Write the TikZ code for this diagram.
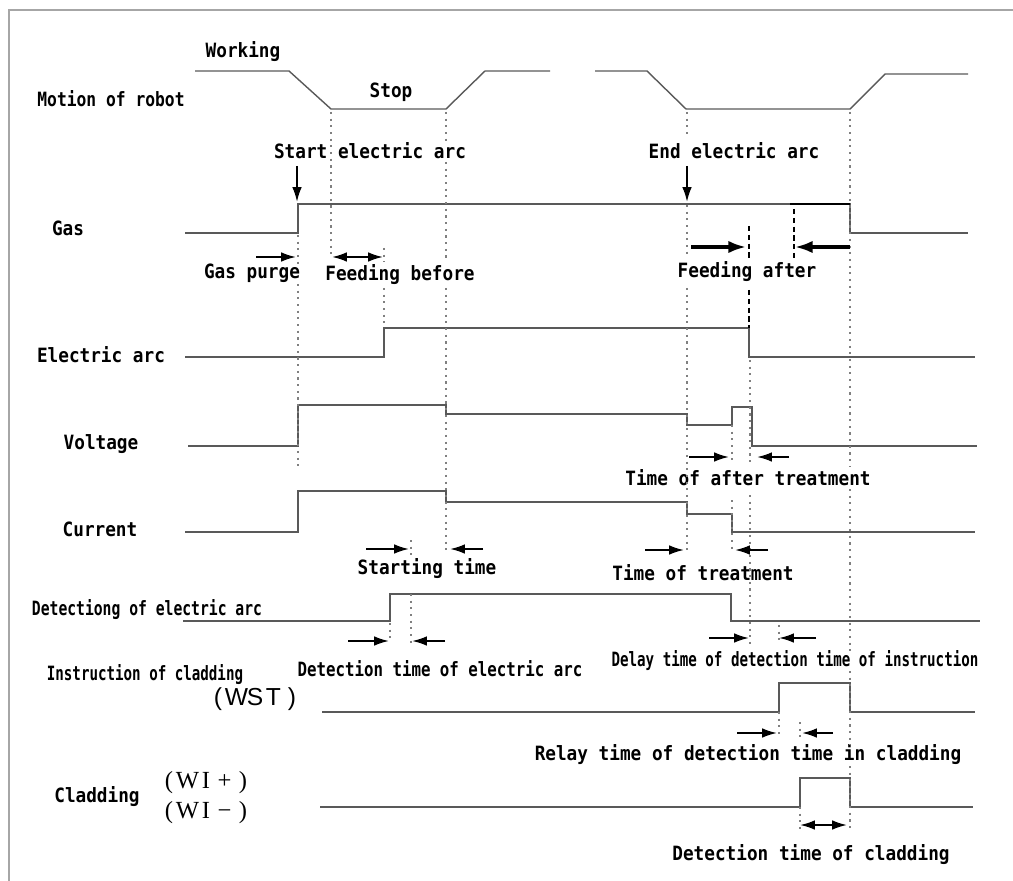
\documentclass[tikz,border=0pt]{standalone}
\usepackage{fontspec}
\usepackage{graphicx}
\usetikzlibrary{arrows.meta}
\newfontfamily\lblfont{DejaVu Sans Mono}[FakeStretch=0.9]
\newfontfamily\wstfont{Liberation Sans}
\newfontfamily\wifont{Liberation Serif}
\newcommand{\fw}[1]{\makebox[0.37cm]{#1}}
\newcommand{\narrow}[2]{\scalebox{#1}[1]{#2}}

\begin{document}
\begin{tikzpicture}
  [x=0.02cm,y=-0.02cm,
   lbl/.style={font=\lblfont\bfseries\fontsize{11.2}{13}\selectfont,inner sep=0pt},
   sig/.style={draw=black!65,line width=0.8pt},
   guide/.style={draw=black!50,line width=0.7pt,dash pattern=on 1.2pt off 2.6pt},
   cutline/.style={draw=black,line width=1.2pt,dash pattern=on 3pt off 2pt},
   timearrow/.style={-{Latex[length=8.5pt,width=5.5pt]},line width=1.1pt},
   bothways/.style={{Latex[length=8.5pt,width=5.5pt]}-{Latex[length=8.5pt,width=5.5pt]},line width=1.1pt},
   feedarrow/.style={-{Latex[length=10pt,width=7pt]},line width=1.8pt}]
  \useasboundingbox (0,0) rectangle (1013,881);
  \draw[black!35,line width=1.1pt] (9,881) -- (9,10) -- (1013,10);

  % row labels
  \node[lbl] (motion) at (111,99) {\narrow{0.92}{Motion of robot}};
  \node[lbl] (gas) at (68,228) {Gas};
  \node[lbl] (arc) at (101,355) {Electric arc};
  \node[lbl] (voltage) at (101,444) {Voltage};
  \node[lbl] (current) at (100,529) {Current};
  \node[lbl] (detecting) at (147,610) {\narrow{0.83}{Detectiong of electric arc}};
  \node[lbl] (instruction) at (145,675) {\narrow{0.8}{Instruction of cladding}};
  \node[font=\wstfont\fontsize{14}{16}\selectfont,inner sep=0pt] (wst) at (255,699)
    {\fw{(}\fw{W}\fw{S}\fw{T}\fw{)}};
  \node[lbl] (cladding) at (97,797) {Cladding};
  \node[font=\wifont\fontsize{14}{16}\selectfont,inner sep=0pt] (wiplus) at (206,783)
    {\fw{(}\fw{W}\fw{I}\fw{+}\fw{)}};
  \node[font=\wifont\fontsize{14}{16}\selectfont,inner sep=0pt] (wiminus) at (206,813)
    {\fw{(}\fw{W}\fw{I}\fw{−}\fw{)}};

  % timing labels
  \node[lbl] (working) at (243,52) {Working};
  \node[lbl] (stop) at (391,92) {Stop};
  \node[lbl] (startarc) at (370,151) {Start electric arc};
  \node[lbl] (endarc) at (734,151) {End electric arc};
  \node[lbl] (gaspurge) at (252,273) {Gas purge};
  \node[lbl] (feedbefore) at (400,275) {Feeding before};
  \node[lbl] (feedafter) at (747,272) {Feeding after};
  \node[lbl] (aftertreat) at (748,478) {Time of after treatment};
  \node[lbl] (startingtime) at (427,569) {Starting time};
  \node[lbl] (treatment) at (703,573) {Time of treatment};
  \node[lbl] (detectime) at (440,669) {\narrow{0.89}{Detection time of electric arc}};
  \node[lbl] (delay) at (795,661) {\narrow{0.8}{Delay time of detection time of instruction}};
  \node[lbl] (relay) at (748,755) {Relay time of detection time in cladding};
  \node[lbl] (cladtime) at (811,855) {Detection time of cladding};

  % signals
  \draw[sig] (195,71) -- (289,71) -- (331,109) -- (446,109) -- (485,71) -- (550,71);
  \draw[sig] (595,71) -- (647,71) -- (686,109) -- (850,109) -- (885,74) -- (968,74);
  \draw[sig] (185,233) -- (298,233) -- (298,204) -- (850,204) -- (850,233) -- (968,233);
  \draw[black,line width=1pt] (790,204) -- (850,204);
  \draw[sig] (185,357) -- (384,357) -- (384,328) -- (749,328) -- (749,357) -- (975,357);
  \draw[sig] (188,446) -- (298,446) -- (298,405) -- (446,405) -- (446,414) -- (687,414)
    -- (687,425) -- (732,425) -- (732,407) -- (752,407) -- (752,446) -- (977,446);
  \draw[sig] (185,532) -- (298,532) -- (298,491) -- (446,491) -- (446,502) -- (687,502)
    -- (687,514) -- (732,514) -- (732,532) -- (975,532);
  \draw[sig] (183,621) -- (390,621) -- (390,594) -- (731,594) -- (731,621) -- (980,621);
  \draw[sig] (322,712) -- (779,712) -- (779,683) -- (850,683) -- (850,712) -- (975,712);
  \draw[sig] (320,807) -- (800,807) -- (800,778) -- (850,778) -- (850,807) -- (973,807);

  % guide lines
  \draw[guide] (298,235) -- (298,264) (298,284) -- (298,467);
  \draw[guide] (331,112) -- (331,258);
  \draw[guide] (384,248) -- (384,262) (384,288) -- (384,326);
  \draw[guide] (446,112) -- (446,141) (446,162) -- (446,262) (446,288) -- (446,552);
  \draw[guide] (411,540) -- (411,556) (411,594) -- (411,645);
  \draw[guide] (390,623) -- (390,641);
  \draw[guide] (687,112) -- (687,138) (687,205) -- (687,258) (687,288) -- (687,552);
  \draw[guide] (732,425) -- (732,462) (732,500) -- (732,552);
  \draw[guide] (750,360) -- (750,462) (750,495) -- (750,647);
  \draw[guide] (850,112) -- (850,466) (850,489) -- (850,651) (850,671) -- (850,745)
    (850,766) -- (850,832);
  \draw[guide] (779,625) -- (779,645) (779,712) -- (779,738);
  \draw[guide] (800,722) -- (800,738) (800,807) -- (800,830);
  \draw[cutline] (749,226) -- (749,258) (749,290) -- (749,328);
  \draw[cutline] (794,209) -- (794,258);

  % arrows
  \draw[timearrow] (297,166) -- (297,202);
  \draw[timearrow] (687,166) -- (687,202);
  \draw[timearrow] (256,257) -- (296,257);
  \draw[bothways] (332,257) -- (383,257);
  \draw[feedarrow] (691,247) -- (746,247);
  \draw[feedarrow] (850,247) -- (795,247);
  \draw[timearrow] (689,457) -- (729,457);
  \draw[timearrow] (789,457) -- (757,457);
  \draw[timearrow] (366,549) -- (409,549);
  \draw[timearrow] (483,549) -- (450,549);
  \draw[timearrow] (645,550) -- (684,550);
  \draw[timearrow] (768,550) -- (735,550);
  \draw[timearrow] (348,641) -- (389,641);
  \draw[timearrow] (445,641) -- (412,641);
  \draw[timearrow] (709,638) -- (749,638);
  \draw[timearrow] (816,638) -- (779,638);
  \draw[timearrow] (737,733) -- (777,733);
  \draw[timearrow] (833,733) -- (802,733);
  \draw[bothways] (800,825) -- (847,825);
\end{tikzpicture}
\end{document}
